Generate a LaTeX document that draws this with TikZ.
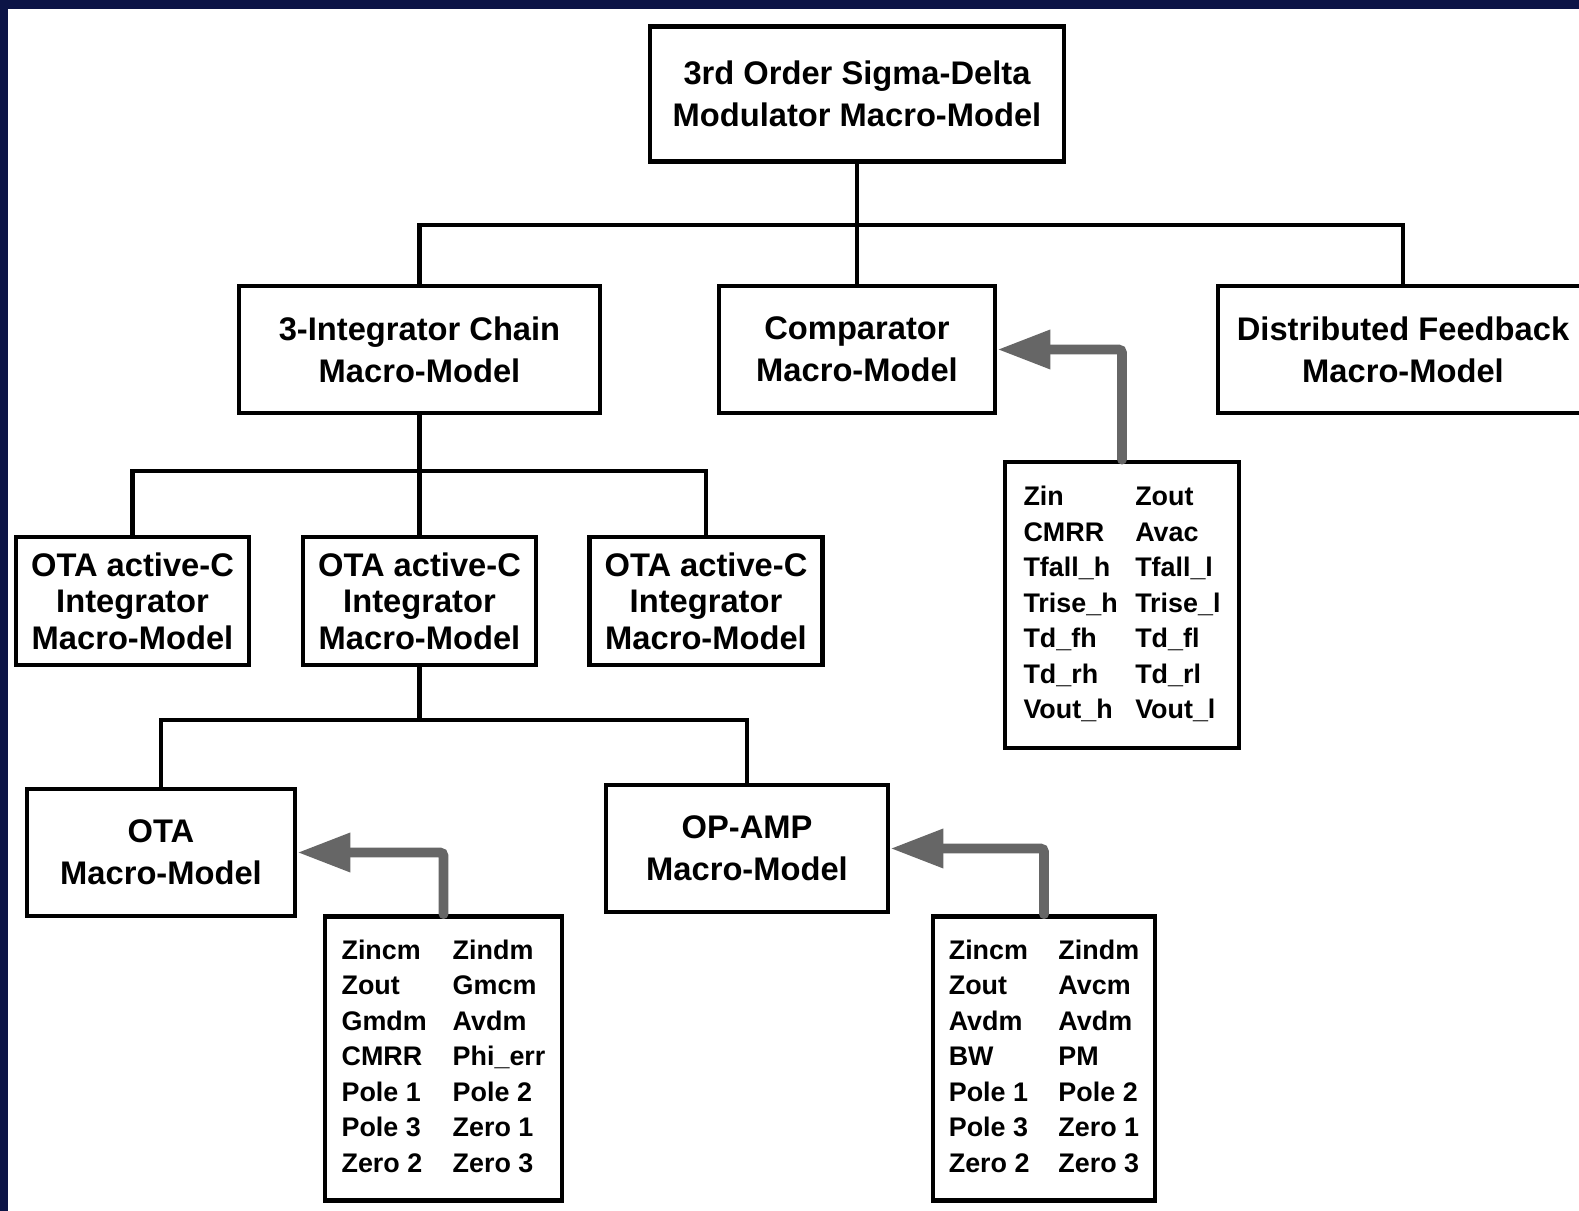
\documentclass[tikz,border=0pt]{standalone}
\usepackage{fontspec}
\setmainfont{Liberation Sans}
\usetikzlibrary{arrows.meta}
\definecolor{navy}{RGB}{12,20,70}
\definecolor{arrowgray}{RGB}{102,102,102}
\tikzset{
  model/.style={draw, line width=2.7pt, align=center, inner sep=0pt,
    font=\fontsize{18.6}{24}\selectfont\bfseries},
  intmodel/.style={model, font=\fontsize{18.6}{20.7}\selectfont\bfseries},
  params/.style={draw, line width=2.7pt, inner sep=0pt,
    font=\fontsize{15.3}{20.2}\selectfont\bfseries},
  tree/.style={line width=2.7pt},
  feed/.style={arrowgray, line width=5.6pt, rounded corners=2pt,
    -{Triangle[length=1.06cm,width=0.74cm]}},
}
\begin{document}
\begin{tikzpicture}
    % frame
    \clip (0,0) rectangle (31.58,24.22);
    \fill[navy] (0,0) rectangle (31.58,24.22);
    \fill[white] (0.166,0) rectangle (31.58,24.04);

    % top level
    \node[model, minimum width=8.28cm, minimum height=2.7cm] (top) at (17.14,22.34)
        {3rd Order Sigma-Delta\\Modulator Macro-Model};

    % second level
    \node[model, minimum width=7.22cm, minimum height=2.54cm] (chain) at (8.39,17.23)
        {3-Integrator Chain\\Macro-Model};
    \node[model, minimum width=5.52cm, minimum height=2.54cm] (cmp) at (17.14,17.23)
        {Comparator\\Macro-Model};
    \node[model, minimum width=7.4cm, minimum height=2.54cm] (dfb) at (28.06,17.23)
        {Distributed Feedback\\Macro-Model};
    \coordinate (busA) at (0,19.72);
    \draw[tree] (top.south) -- (top.south |- busA);
    \draw[tree] (chain.north) -- (chain.north |- busA) -- (dfb.north |- busA) -- (dfb.north);
    \draw[tree] (cmp.north) -- (cmp.north |- busA);

    % integrators
    \node[intmodel, minimum width=4.66cm, minimum height=2.56cm] (intA) at (2.65,12.2)
        {OTA active-C\\Integrator\\Macro-Model};
    \node[intmodel, minimum width=4.66cm, minimum height=2.56cm] (intB) at (8.39,12.2)
        {OTA active-C\\Integrator\\Macro-Model};
    \node[intmodel, minimum width=4.66cm, minimum height=2.56cm] (intC) at (14.12,12.2)
        {OTA active-C\\Integrator\\Macro-Model};
    \coordinate (busB) at (0,14.8);
    \draw[tree] (chain.south) -- (chain.south |- busB);
    \draw[tree] (intA.north) -- (intA.north |- busB) -- (intC.north |- busB) -- (intC.north);
    \draw[tree] (intB.north) -- (intB.north |- busB);

    % ota and op-amp
    \node[model, minimum width=5.36cm, minimum height=2.54cm] (ota) at (3.22,7.17)
        {OTA\\Macro-Model};
    \node[model, minimum width=5.64cm, minimum height=2.54cm] (opamp) at (14.94,7.25)
        {OP-AMP\\Macro-Model};
    \coordinate (busC) at (0,9.82);
    \draw[tree] (intB.south) -- (intB.south |- busC);
    \draw[tree] (ota.north) -- (ota.north |- busC) -- (opamp.north |- busC) -- (opamp.north);

    % parameter lists
    \node[params, minimum width=4.68cm, minimum height=5.72cm] (cmpP) at (22.44,12.12)
        {\begin{tabular}{@{}l@{\hspace{10pt}}l@{}}
        Zin & Zout\\ CMRR & Avac\\ Tfall\_h & Tfall\_l\\ Trise\_h & Trise\_l\\
        Td\_fh & Td\_fl\\ Td\_rh & Td\_rl\\ Vout\_h & Vout\_l
        \end{tabular}};
    \node[params, minimum width=4.74cm, minimum height=5.68cm] (otaP) at (8.87,3.05)
        {\begin{tabular}{@{}l@{\hspace{14.8pt}}l@{}}
        Zincm & Zindm\\ Zout & Gmcm\\ Gmdm & Avdm\\ CMRR & Phi\_err\\
        Pole 1 & Pole 2\\ Pole 3 & Zero 1\\ Zero 2 & Zero 3
        \end{tabular}};
    \node[params, minimum width=4.44cm, minimum height=5.68cm] (opP) at (20.88,3.05)
        {\begin{tabular}{@{}l@{\hspace{16.5pt}}l@{}}
        Zincm & Zindm\\ Zout & Avcm\\ Avdm & Avdm\\ BW & PM\\
        Pole 1 & Pole 2\\ Pole 3 & Zero 1\\ Zero 2 & Zero 3
        \end{tabular}};

    % feed arrows
    \draw[feed, line cap=round] (cmpP.north) |- (cmp.east);
    \draw[feed, line cap=round] (otaP.north) |- (ota.east);
    \draw[feed, line cap=round] (opP.north) |- (opamp.east);
\end{tikzpicture}
\end{document}
